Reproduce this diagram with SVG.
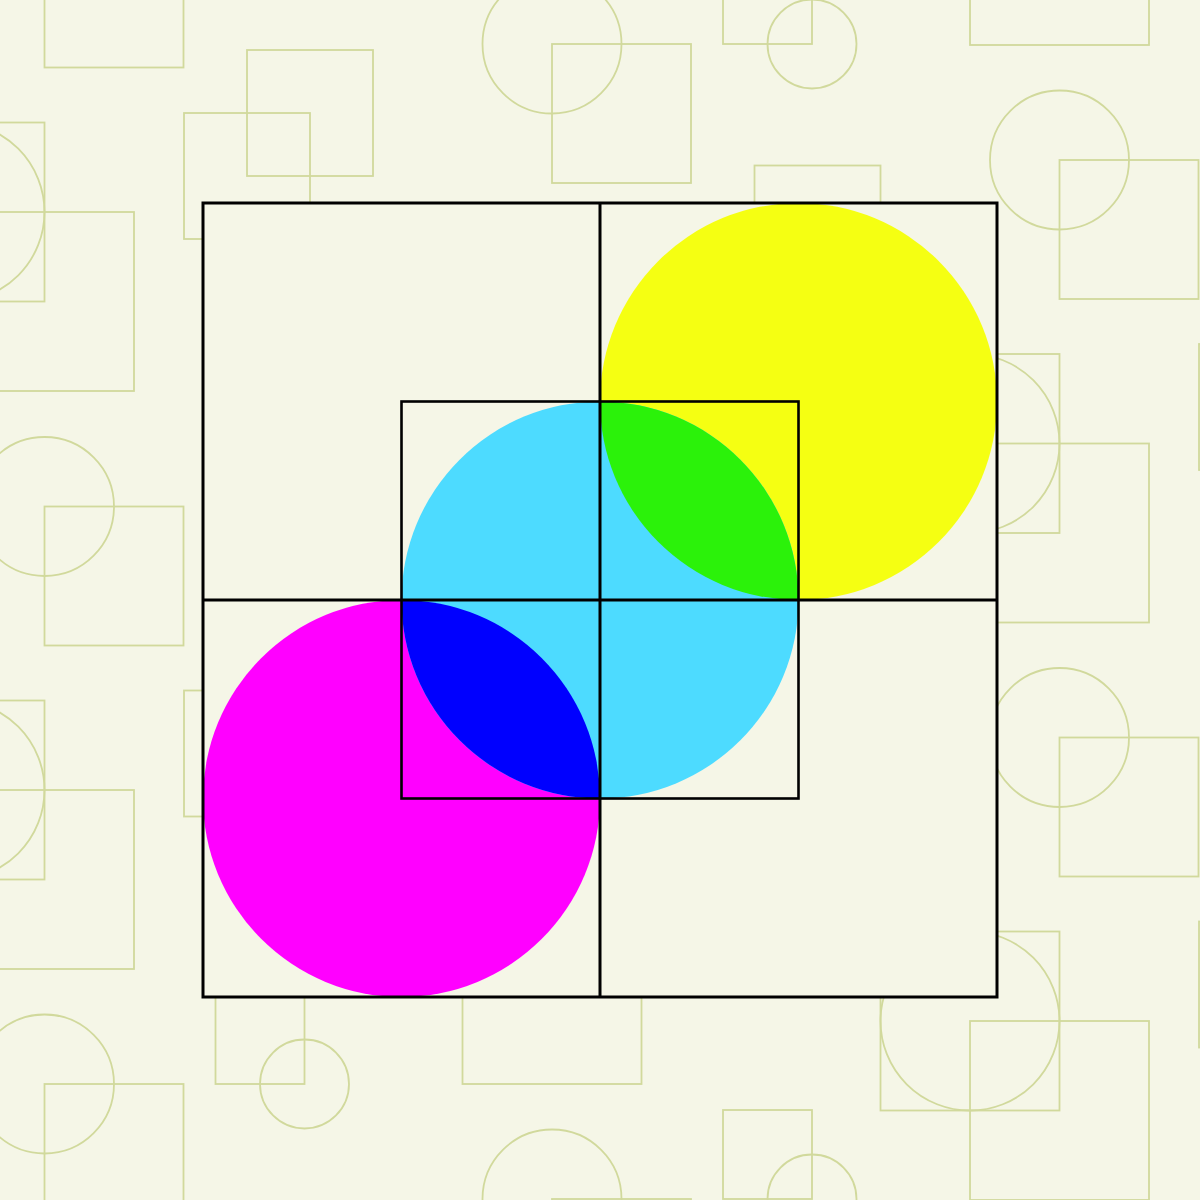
<svg xmlns="http://www.w3.org/2000/svg" width="1200" height="1200" viewBox="0 0 1200 1200">
<style>
.p{fill:none;stroke:#d1d99c;stroke-width:1.8}
.ln{fill:none;stroke:#000;stroke-width:3}
.in{fill:none;stroke:#000;stroke-width:2.6}
</style>
<rect x="0" y="0" width="1200" height="1200" fill="#f5f6e7"/>
<g id="background-pattern" class="p">
<rect x="247" y="50" width="126" height="126"/>
<rect x="754.5" y="165.5" width="126" height="126"/>
<rect x="184" y="113" width="126" height="126"/>
<rect x="184" y="690.5" width="126" height="126"/>
<rect x="1199" y="344" width="126" height="126"/>
<rect x="1199" y="921.5" width="126" height="126"/>
<circle cx="552" cy="44" r="69.5"/><rect x="552" y="44" width="139" height="139"/>
<rect x="44.5" y="-71.5" width="139" height="139"/>
<circle cx="44.5" cy="506.5" r="69.5"/><rect x="44.5" y="506.5" width="139" height="139"/>
<circle cx="44.5" cy="1084" r="69.5"/><rect x="44.5" y="1084" width="139" height="139"/>
<circle cx="552" cy="1199" r="69.5"/><rect x="552" y="1199" width="139" height="139"/>
<circle cx="1059.5" cy="160" r="69.5"/><rect x="1059.5" y="160" width="139" height="139"/>
<circle cx="1059.5" cy="737.5" r="69.5"/><rect x="1059.5" y="737.5" width="139" height="139"/>
<circle cx="812" cy="44" r="44.5"/><rect x="723" y="-45" width="89" height="89"/>
<circle cx="812" cy="1199" r="44.5"/><rect x="723" y="1110" width="89" height="89"/>
<circle cx="304.5" cy="1084" r="44.5"/><rect x="215.5" y="995" width="89" height="89"/>
<circle cx="-45" cy="212" r="89.5"/><rect x="-134.5" y="122.5" width="179" height="179"/><rect x="-45" y="212" width="179" height="179"/>
<circle cx="-45" cy="790" r="89.5"/><rect x="-134.5" y="700.5" width="179" height="179"/><rect x="-45" y="790" width="179" height="179"/>
<rect x="462.5" y="905" width="179" height="179"/>
<circle cx="970" cy="443.5" r="89.5"/><rect x="880.5" y="354" width="179" height="179"/><rect x="970" y="443.5" width="179" height="179"/>
<circle cx="970" cy="1021" r="89.5"/><rect x="880.5" y="931.5" width="179" height="179"/><rect x="970" y="1021" width="179" height="179"/>
<rect x="970" y="-134" width="179" height="179"/>
</g>
<g id="panel">
<rect x="203" y="203" width="794" height="794" fill="#f5f6e7"/>
</g>
<g id="circle-yellow"><circle cx="798.5" cy="401.5" r="198.5" fill="#f5ff12"/></g>
<g id="circle-magenta"><circle cx="401.5" cy="798.5" r="198.5" fill="#ff00ff"/></g>
<g id="circle-cyan"><circle cx="600" cy="600" r="198.5" fill="#4ddbff"/></g>
<g id="overlap-green"><path d="M600 401.5A198.5 198.5 0 0 1 798.5 600A198.5 198.5 0 0 1 600 401.5Z" fill="#2bf20a"/></g>
<g id="overlap-blue"><path d="M401.5 600A198.5 198.5 0 0 1 600 798.5A198.5 198.5 0 0 1 401.5 600Z" fill="#0000ff"/></g>
<g id="grid">
<rect class="ln" x="203" y="203" width="794" height="794"/>
<line class="ln" x1="600" y1="203" x2="600" y2="997"/>
<line class="ln" x1="203" y1="600" x2="997" y2="600"/>
<rect class="in" x="401.5" y="401.5" width="397" height="397"/>
</g>
</svg>
